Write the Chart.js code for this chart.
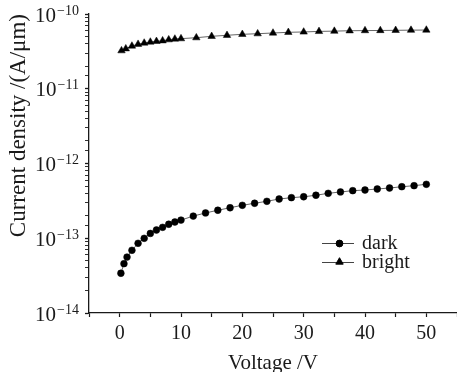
<!DOCTYPE html>
<html>
<head>
<meta charset="utf-8">
<script src="https://cdn.jsdelivr.net/npm/chart.js@4/dist/chart.umd.min.js"></script>
<style>
  html, body { margin: 0; padding: 0; background: #fff; }
  #wrap { width: 457px; height: 372px; position: relative; }
</style>
</head>
<body>
<div id="wrap"><canvas id="c" width="457" height="372"></canvas></div>
<script>
// ---- data ----
const darkVoltage = [0.2, 0.7, 1.2, 2, 3, 4, 5, 6, 7, 8, 9, 10,
  12, 14, 16, 18, 20, 22, 24, 26, 28, 30, 32, 34, 36, 38, 40, 42, 44, 46, 48, 50];
const darkCurrent = [3.4e-14, 4.57e-14, 5.6e-14, 6.9e-14, 8.56e-14, 9.98e-14, 1.16e-13, 1.29e-13,
  1.40e-13, 1.54e-13, 1.65e-13, 1.75e-13, 1.98e-13, 2.18e-13, 2.37e-13, 2.56e-13, 2.76e-13,
  2.94e-13, 3.12e-13, 3.35e-13, 3.49e-13, 3.59e-13, 3.76e-13, 3.99e-13, 4.16e-13, 4.33e-13,
  4.42e-13, 4.56e-13, 4.70e-13, 4.89e-13, 5.05e-13, 5.27e-13];
const brightVoltage = [0.3, 1, 2, 3, 4, 5, 6, 7, 8, 9, 10,
  12.5, 15, 17.5, 20, 22.5, 25, 27.5, 30, 32.5, 35, 37.5, 40, 42.5, 45, 47.5, 50];
const brightCurrent = [3.23e-11, 3.43e-11, 3.73e-11, 3.94e-11, 4.09e-11, 4.22e-11, 4.31e-11, 4.39e-11,
  4.53e-11, 4.63e-11, 4.68e-11, 4.82e-11, 5.03e-11, 5.19e-11, 5.35e-11, 5.45e-11, 5.57e-11, 5.69e-11,
  5.75e-11, 5.85e-11, 5.90e-11, 5.97e-11, 6.00e-11, 6.02e-11, 6.05e-11, 6.08e-11, 6.10e-11];
const seriesNames = ['dark', 'bright'];
const xTickLabels = [0, 10, 20, 30, 40, 50];
const yDecadeExponents = [-14, -13, -12, -11, -10];
const xTitle = 'Voltage /V';
const yTitle = 'Current density /(A/\u03bcm)';

const SERIF = '"Liberation Serif", "Times New Roman", serif';
const INK = '#1a1a1a';

function pts(xs, ys) { return xs.map((x, i) => ({ x: x, y: ys[i] })); }

const yLabelsPlugin = {
  id: 'yLabels',
  afterDraw(chart) {
    const ctx = chart.ctx;
    const ys = chart.scales.y;
    const rightEdge = 79;
    ctx.save();
    ctx.fillStyle = INK;
    ctx.textAlign = 'right';
    ctx.textBaseline = 'alphabetic';
    yDecadeExponents.forEach(e => {
      const py = ys.getPixelForValue(Math.pow(10, e));
      const sup = '\u2212' + Math.abs(e);
      ctx.font = '14px ' + SERIF;
      const supW = ctx.measureText(sup).width;
      ctx.fillText(sup, rightEdge, py + 0.5);
      ctx.font = '21px ' + SERIF;
      ctx.fillText('10', rightEdge - supW - 1, py + 7.5);
    });
    ctx.restore();
  }
};

const legendPlugin = {
  id: 'customLegend',
  afterDraw(chart) {
    const ctx = chart.ctx;
    const items = [
      { name: seriesNames[0], style: 'circle', r: 3.4, y: 243.5 },
      { name: seriesNames[1], style: 'triangle', r: 4.3, y: 262.5 }
    ];
    ctx.save();
    items.forEach(it => {
      ctx.strokeStyle = '#444';
      ctx.lineWidth = 1;
      ctx.beginPath();
      ctx.moveTo(322, it.y);
      ctx.lineTo(354, it.y);
      ctx.stroke();
      ctx.fillStyle = '#000';
      ctx.strokeStyle = '#000';
      Chart.helpers.drawPoint(ctx, { pointStyle: it.style, radius: it.r, rotation: 0, borderWidth: 1 }, 339.5, it.style === 'triangle' ? it.y - 0.5 : it.y);
      ctx.fillStyle = INK;
      ctx.font = '20px ' + SERIF;
      ctx.textAlign = 'left';
      ctx.textBaseline = 'alphabetic';
      ctx.fillText(it.name, 362, it.y + 5.5);
    });
    ctx.restore();
  }
};

new Chart(document.getElementById('c'), {
  type: 'scatter',
  data: {
    datasets: [
      {
        label: seriesNames[0],
        data: pts(darkVoltage, darkCurrent),
        showLine: true,
        borderColor: '#666',
        borderWidth: 1,
        pointStyle: 'circle',
        pointRadius: 3.4,
        pointBackgroundColor: '#000',
        pointBorderColor: '#000',
        pointBorderWidth: 0.5
      },
      {
        label: seriesNames[1],
        data: pts(brightVoltage, brightCurrent),
        showLine: true,
        borderColor: '#666',
        borderWidth: 1,
        pointStyle: 'triangle',
        pointRadius: 4.3,
        pointBackgroundColor: '#000',
        pointBorderColor: '#000',
        pointBorderWidth: 0.5
      }
    ]
  },
  options: {
    responsive: false,
    animation: false,
    layout: { autoPadding: false, padding: { left: 0, right: 0, top: 14, bottom: 0 } },
    plugins: { legend: { display: false }, tooltip: { enabled: false } },
    scales: {
      x: {
        type: 'linear',
        min: -5,
        max: 55,
        afterFit(scale) { scale.height = 59; scale.paddingRight = 0; scale.paddingLeft = 0; },
        border: { display: true, color: INK, width: 1.3 },
        grid: { drawOnChartArea: false, drawTicks: true, tickLength: 4, tickColor: INK, tickWidth: 1.2 },
        ticks: {
          stepSize: 5,
          padding: 5,
          color: INK,
          font: { family: SERIF, size: 20 },
          maxRotation: 0,
          autoSkip: false,
          callback: v => xTickLabels.includes(v) ? String(v) : ''
        },
        title: {
          display: true,
          text: xTitle,
          color: INK,
          font: { family: SERIF, size: 21, lineHeight: 0.8 },
          padding: 0
        }
      },
      y: {
        type: 'logarithmic',
        min: 1e-14,
        max: 1e-10,
        afterFit(scale) { scale.width = 89; },
        border: { display: true, color: INK, width: 1.3 },
        grid: {
          drawOnChartArea: false, drawTicks: true, tickLength: 4, tickColor: INK,
          tickWidth: ctx => {
            const v = ctx.tick ? ctx.tick.value : 0;
            const l = Math.log10(v);
            return Math.abs(l - Math.round(l)) < 1e-6 ? 1.3 : 0.9;
          }
        },
        ticks: {
          autoSkip: false,
          padding: 0,
          callback: () => ''
        },
        title: {
          display: true,
          text: yTitle,
          align: 'end',
          color: INK,
          font: { family: SERIF, size: 23, lineHeight: 1.2 },
          padding: { top: 5, bottom: 0 }
        }
      }
    }
  },
  plugins: [yLabelsPlugin, legendPlugin]
});
</script>
</body>
</html>
